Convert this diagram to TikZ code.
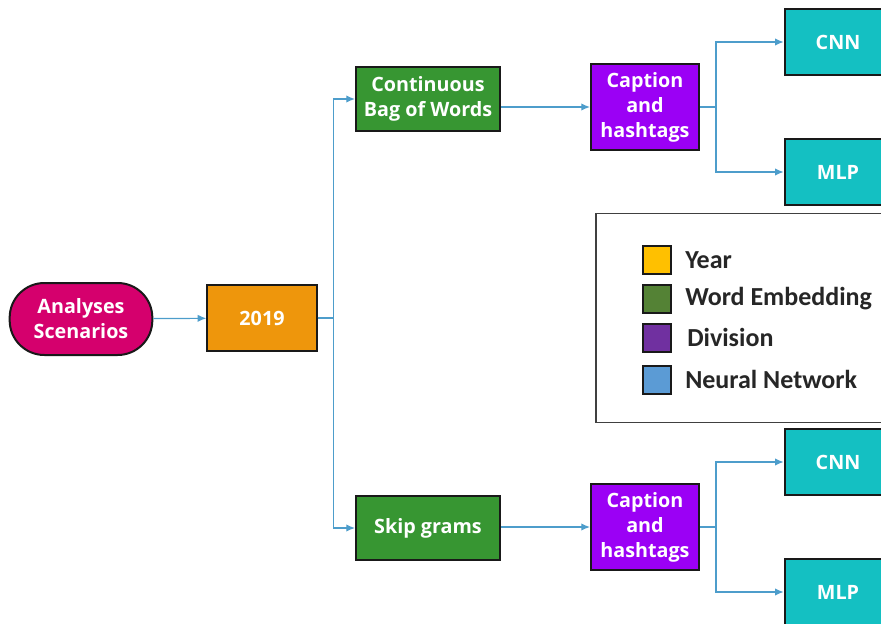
\documentclass[tikz,border=0pt]{standalone}
\usepackage{fontspec}
\usetikzlibrary{arrows.meta}
\setmainfont{Open Sans}
\newfontfamily\legfont{Carlito}
\definecolor{scencol}{HTML}{D5006D}
\definecolor{yearcol}{HTML}{EE960C}
\definecolor{embcol}{HTML}{379632}
\definecolor{divcol}{HTML}{9B00F5}
\definecolor{nncol}{HTML}{14C0C2}
\definecolor{linkblue}{HTML}{4D9DCB}
\definecolor{kyearcol}{HTML}{FFC000}
\definecolor{kembcol}{HTML}{548235}
\definecolor{kdivcol}{HTML}{7030A0}
\definecolor{knncol}{HTML}{5B9BD5}
\begin{document}
\begin{tikzpicture}[>={Latex[length=6.5pt,width=5.5pt]}, x=0.75pt, y=-0.75pt,
  box/.style={draw=black!90, line width=1.5pt, text=white, inner sep=0pt,
    font=\bfseries\fontsize{14.8}{18.8}\selectfont, align=center},
  link/.style={->, draw=linkblue, line width=0.9pt},
  key/.style={draw=black!90, line width=1.5pt, minimum size=21pt, inner sep=0pt},
  keytext/.style={anchor=west, text=black!85, inner sep=0pt,
    font=\legfont\bfseries\fontsize{19.5}{22}\selectfont}]
\clip (0,0) rectangle (881,624);
% main chain
\node[box, fill=scencol, rounded corners=26pt, minimum width=107pt, minimum height=54pt] (scen) at (81,319) {Analyses\\Scenarios};
\node[box, fill=yearcol, minimum width=82pt, minimum height=49pt] (year) at (262,318) {2019};
\node[box, fill=embcol, minimum width=108pt, minimum height=48pt] (cbow) at (428,99) {Continuous\\Bag of Words};
\node[box, fill=embcol, minimum width=108pt, minimum height=48pt] (skip) at (428,528) {Skip grams};
\node[box, fill=divcol, minimum width=81pt, minimum height=64pt] (capA) at (645,107) {Caption\\and\\hashtags};
\node[box, fill=divcol, minimum width=81pt, minimum height=64pt] (capB) at (645,527) {Caption\\and\\hashtags};
\node[box, fill=nncol, minimum width=80pt, minimum height=49pt] (cnnA) at (838,42) {CNN};
\node[box, fill=nncol, minimum width=80pt, minimum height=49pt] (mlpA) at (838,172) {MLP};
\node[box, fill=nncol, minimum width=80pt, minimum height=49pt] (cnnB) at (838,462) {CNN};
\node[box, fill=nncol, minimum width=80pt, minimum height=49pt] (mlpB) at (838,592) {MLP};
\draw[link] (scen) -- (year);
\draw[link] (year.east) -- ++(16,0) |- (cbow.west);
\draw[link] (year.east) -- ++(16,0) |- (skip.west);
\draw[link] (cbow.east |- capA.west) -- (capA.west);
\draw[link] (skip.east |- capB.west) -- (capB.west);
\draw[link] (capA.east) -- ++(16,0) |- (cnnA.west);
\draw[link] (capA.east) -- ++(16,0) |- (mlpA.west);
\draw[link] (capB.east) -- ++(16,0) |- (cnnB.west);
\draw[link] (capB.east) -- ++(16,0) |- (mlpB.west);
% legend
\node[draw=black!75, line width=1.2pt, fill=white, minimum width=228pt, minimum height=157pt] (legend) at (748,318) {};
\node[key, fill=kyearcol] (kyear) at (657,260) {};
\node[key, fill=kembcol] (kemb) at (657,299) {};
\node[key, fill=kdivcol] (kdiv) at (657,338) {};
\node[key, fill=knncol] (knn) at (657,380) {};
\node[keytext] (tyear) at (685,260) {Year};
\node[keytext] (temb) at (685,299) {Word Embedding};
\node[keytext] (tdiv) at (687,337) {Division};
\node[keytext] (tnn) at (685,379) {Neural Network};
\end{tikzpicture}
\end{document}
